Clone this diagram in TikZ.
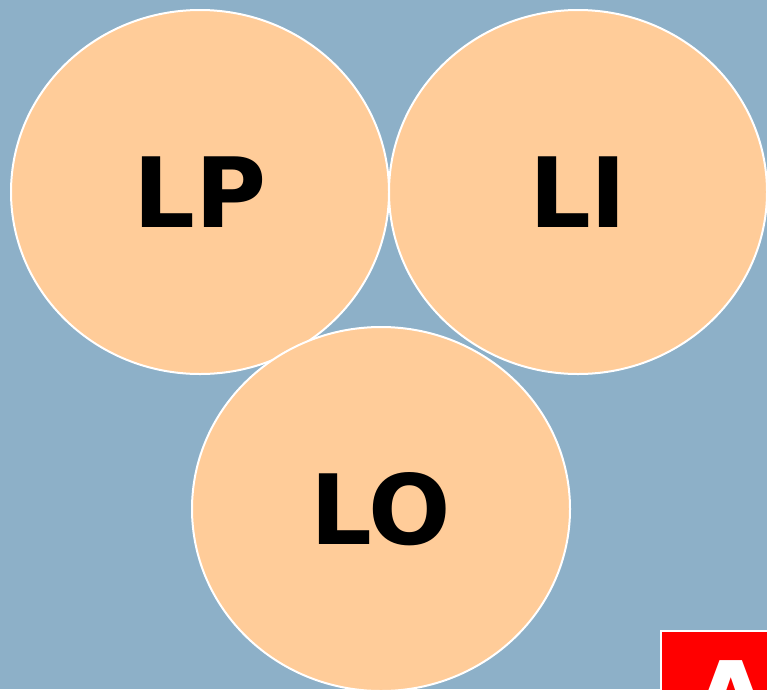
\documentclass[tikz,border=0pt]{standalone}
\usepackage{fontspec}
\newfontfamily\dvb{DejaVu Sans}
\usetikzlibrary{shapes.geometric}
\definecolor{bgblue}{HTML}{8DB0C8}
\definecolor{peach}{HTML}{FFCC99}
\tikzset{
  blob/.style={ellipse, draw=white, line width=2pt, fill=peach, minimum width=378pt, minimum height=364pt, inner sep=0pt},
  lbl/.style={font=\dvb\bfseries\fontsize{97}{97}\selectfont, text=black}
}
\begin{document}
\begin{tikzpicture}[x=1pt,y=-1pt]
\fill[bgblue] (0,0) rectangle (767,689);
\useasboundingbox (0,0) rectangle (767,689);
\node[blob] (lp) at (200,192) {};
\node[blob] (li) at (578,192) {};
\node[blob] (lo) at (381,509) {};
\node[lbl] (lpt) at (200,192) {LP};
\node[lbl] (lit) at (578,192) {LI};
\node[lbl] (lot) at (381,509) {LO};
\begin{scope}
\clip (0,0) rectangle (767,689);
\draw[draw=white, fill=red, line width=2pt] (661,631) rectangle (800,760);
\node[font=\dvb\bfseries\fontsize{100}{100}\selectfont, text=white, anchor=base] (a) at (731,733) {A};
\end{scope}
\end{tikzpicture}
\end{document}
